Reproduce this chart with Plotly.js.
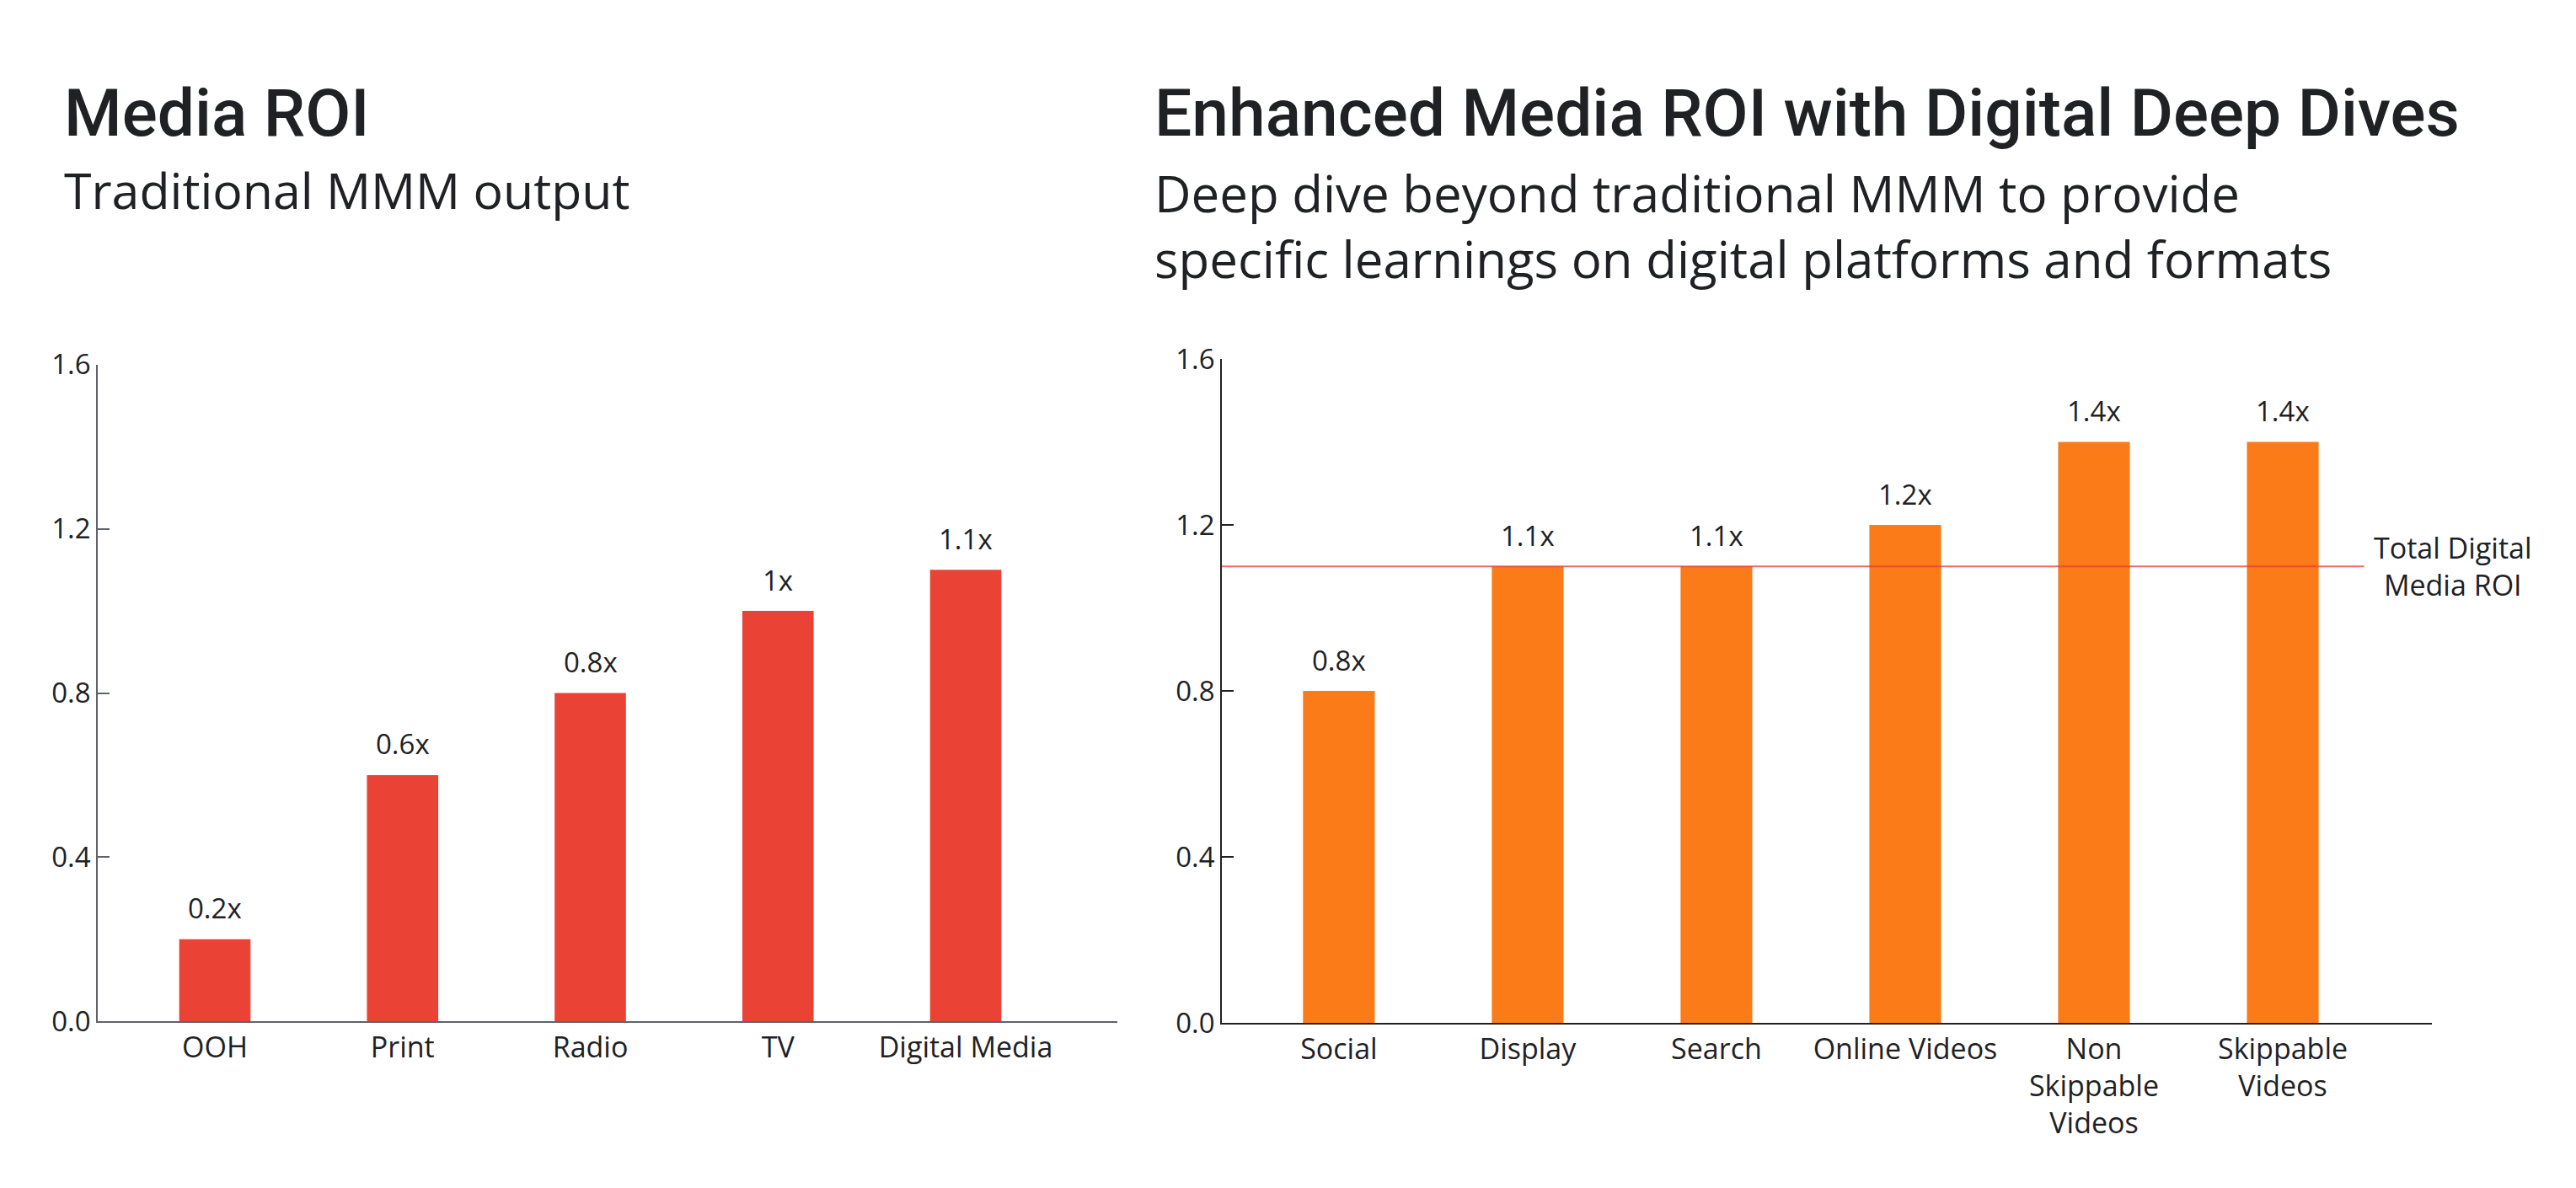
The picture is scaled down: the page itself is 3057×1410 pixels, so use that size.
<!DOCTYPE html>
<html><head><meta charset="utf-8">
<script src="https://cdn.plot.ly/plotly-3.0.1.min.js"></script>
<style>html,body{margin:0;padding:0;background:#fff;} #chart{width:3057px;height:1410px;}</style>
</head><body><div id="chart"></div>
<script>
const mediaCategories = ['OOH', 'Print', 'Radio', 'TV', 'Digital Media'];
const mediaROI = [0.2, 0.6, 0.8, 1.0, 1.1];
const mediaLabels = ['0.2x', '0.6x', '0.8x', '1x', '1.1x'];
const digitalCategories = ['Social', 'Display', 'Search', 'Online Videos', 'Non<br>Skippable<br>Videos', 'Skippable<br>Videos'];
const digitalROI = [0.8, 1.1, 1.1, 1.2, 1.4, 1.4];
const digitalLabels = ['0.8x', '1.1x', '1.1x', '1.2x', '1.4x', '1.4x'];
const totalDigitalROI = 1.1;
const totalDigitalLabel = 'Total Digital<br>Media ROI';
const yTickVals = [0, 0.4, 0.8, 1.2, 1.6];
const yTickText = ['0.0', '0.4', '0.8', '1.2', '1.6'];
const leftTitle = 'Media ROI';
const leftSubtitle = 'Traditional MMM output';
const rightTitle = 'Enhanced Media ROI with Digital Deep Dives';
const rightSubtitle = 'Deep dive beyond traditional MMM to provide<br>specific learnings on digital platforms and formats';

const W = 3057, H = 1410;
const FONT = '"Open Sans", Roboto, sans-serif';
const TFONT = 'Roboto, "Open Sans", sans-serif';
const TXT = '#202124';
const px = v => v / W;
const py = v => 1 - v / H;

const traces = [
  {type: 'bar', x: mediaCategories, y: mediaROI, xaxis: 'x', yaxis: 'y',
   marker: {color: '#EA4335'}, hoverinfo: 'x+y'},
  {type: 'bar', x: digitalCategories, y: digitalROI, xaxis: 'x2', yaxis: 'y2',
   marker: {color: '#FA7B17'}, hoverinfo: 'x+y'}
];

function yAxis(domain, lineColor, anchor) {
  return {domain: domain, range: [0, 1.6], tickvals: yTickVals, ticktext: yTickText,
    anchor: anchor, ticks: 'inside', ticklen: 14, tickwidth: 1.5, tickcolor: lineColor,
    showline: true, linecolor: lineColor, linewidth: 1.5,
    showgrid: false, zeroline: false, fixedrange: true,
    tickfont: {family: FONT, size: 33, color: TXT}};
}
function xAxis(domain, range, lineColor, anchor) {
  return {domain: domain, range: range, type: 'category', anchor: anchor,
    ticks: '', showline: true, linecolor: lineColor, linewidth: 1.5,
    showgrid: false, zeroline: false, fixedrange: true,
    tickfont: {family: FONT, size: 34, color: TXT}};
}

const annotations = [];
mediaCategories.forEach((c, i) => annotations.push({
  x: c, y: mediaROI[i], xref: 'x', yref: 'y', text: mediaLabels[i], showarrow: false,
  yanchor: 'middle', yshift: 37, font: {family: FONT, size: 33, color: TXT}}));
digitalCategories.forEach((c, i) => annotations.push({
  x: c, y: digitalROI[i], xref: 'x2', yref: 'y2', text: digitalLabels[i], showarrow: false,
  yanchor: 'middle', yshift: 37, font: {family: FONT, size: 33, color: TXT}}));
annotations.push({x: px(2911), xref: 'paper', y: totalDigitalROI, yref: 'y2',
  text: totalDigitalLabel, showarrow: false, xanchor: 'center', yanchor: 'middle',
  font: {family: FONT, size: 34, color: TXT}});
annotations.push({x: px(74), y: py(134), xref: 'paper', yref: 'paper', text: leftTitle,
  showarrow: false, xanchor: 'left', yanchor: 'middle',
  font: {family: TFONT, size: 78.5, color: TXT, weight: 500}});
annotations.push({x: px(74), y: py(225), xref: 'paper', yref: 'paper', text: leftSubtitle,
  showarrow: false, xanchor: 'left', yanchor: 'middle',
  font: {family: FONT, size: 59, color: TXT}});
annotations.push({x: px(1368), y: py(134), xref: 'paper', yref: 'paper', text: rightTitle,
  showarrow: false, xanchor: 'left', yanchor: 'middle',
  font: {family: TFONT, size: 78.5, color: TXT, weight: 500}});
annotations.push({x: px(1368), y: py(186), xref: 'paper', yref: 'paper', text: rightSubtitle,
  showarrow: false, xanchor: 'left', yanchor: 'top', align: 'left',
  font: {family: FONT, size: 60, color: TXT}});

const layout = {
  width: W, height: H, autosize: false,
  margin: {l: 0, r: 0, t: 0, b: 0, pad: 0},
  paper_bgcolor: '#ffffff', plot_bgcolor: '#ffffff',
  showlegend: false, bargap: 0.62,
  font: {family: FONT, color: TXT},
  xaxis: xAxis([px(116), px(1326)], [-0.624, 4.808], '#5f6368', 'y'),
  yaxis: yAxis([py(1212.3), py(432.7)], '#5f6368', 'x'),
  xaxis2: xAxis([px(1450), px(2886)], [-0.62, 5.79], '#202124', 'y2'),
  yaxis2: yAxis([py(1214), py(426)], '#202124', 'x2'),
  annotations: annotations,
  shapes: [{type: 'line', xref: 'x2 domain', x0: 0, x1: 0.944, yref: 'y2',
    y0: totalDigitalROI, y1: totalDigitalROI, layer: 'above',
    line: {color: 'rgba(229,57,53,0.75)', width: 2}}]
};

Plotly.newPlot('chart', traces, layout, {displayModeBar: false});
</script></body></html>
